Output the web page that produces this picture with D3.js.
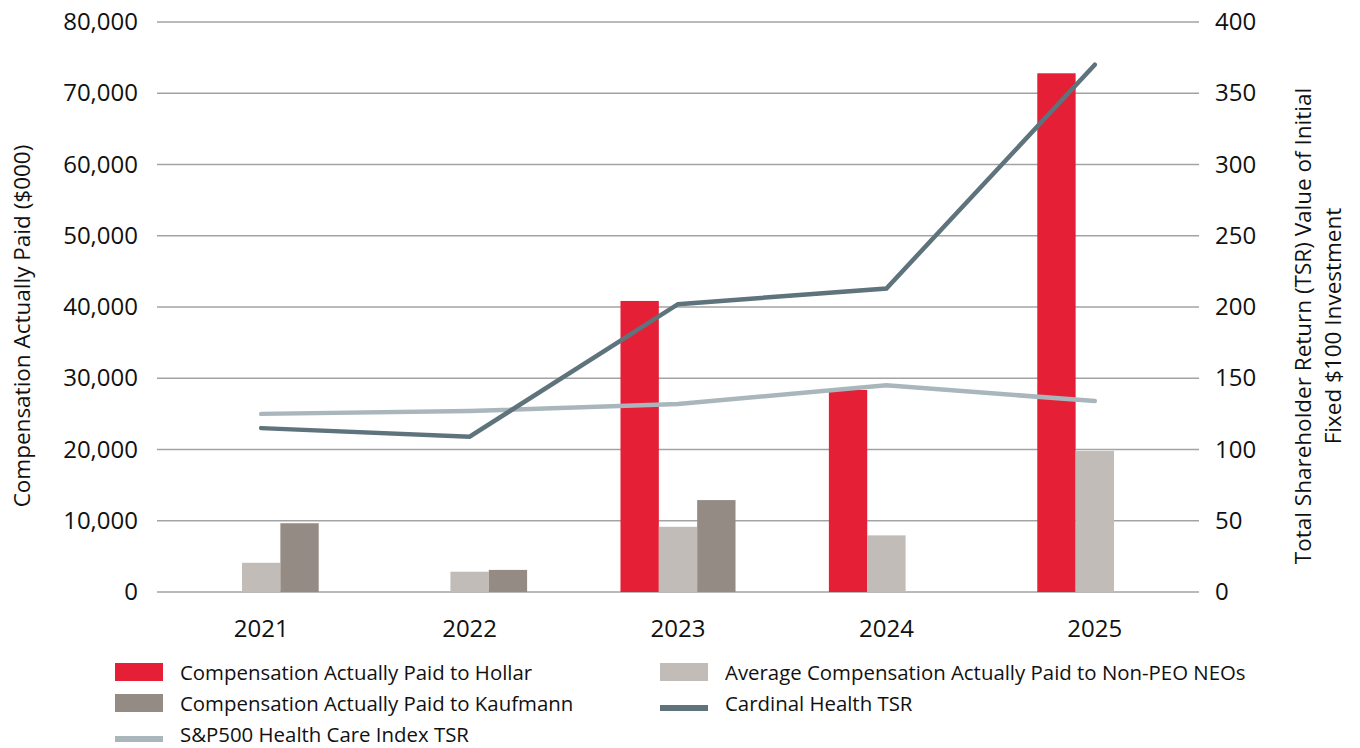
<!DOCTYPE html>
<html>
<head>
<meta charset="utf-8">
<script src="https://cdn.jsdelivr.net/npm/d3@7"></script>
<style>
  html, body { margin: 0; padding: 0; background: #fff; }
  svg { display: block; font-family: "Open Sans", "Noto Sans", sans-serif; }
</style>
</head>
<body>
<svg id="chart" width="1360" height="748"></svg>
<script>
// Fiscal years
const years = ["2021", "2022", "2023", "2024", "2025"];

// Compensation actually paid ($000)
const hollarCAP   = [null, null, 40850, 28350, 72800];
const nonPeoCAP   = [4100, 2850, 9150, 7950, 19800];
const kaufmannCAP = [9650, 3100, 12900, null, null];

// TSR value of an initial fixed $100 investment
const cardinalTSR = [115, 109, 202, 213, 370];
const sp500TSR    = [125, 127, 132, 145, 134];

// Axis ticks
const leftTicks  = [0, 10000, 20000, 30000, 40000, 50000, 60000, 70000, 80000];
const rightTicks = [0, 50, 100, 150, 200, 250, 300, 350, 400];

const barSeries = [
  { key: "hollar",   label: "Compensation Actually Paid to Hollar",   values: hollarCAP,   color: "#e41f36" },
  { key: "nonpeo",   label: "Average Compensation Actually Paid to Non-PEO NEOs", values: nonPeoCAP, color: "#c1bcb8" },
  { key: "kaufmann", label: "Compensation Actually Paid to Kaufmann", values: kaufmannCAP, color: "#958b85" }
];
const lineSeries = [
  { key: "cardinal", label: "Cardinal Health TSR",            values: cardinalTSR, color: "#5e737b" },
  { key: "sp500",    label: "S&P500 Health Care Index TSR",   values: sp500TSR,    color: "#a9b7bd" }
];

const svg = d3.select("#chart");
const plot = { left: 157, right: 1199, top: 22, bottom: 592 };

const x = d3.scaleBand().domain(years).range([plot.left, plot.right])
  .paddingInner(0.448).paddingOuter(0.224);
const xSub = d3.scaleBand().domain(barSeries.map(s => s.key)).range([0, x.bandwidth()]);
const yL = d3.scaleLinear().domain([0, 80000]).range([plot.bottom, plot.top]);
const yR = d3.scaleLinear().domain([0, 400]).range([plot.bottom, plot.top]);

// Gridlines
svg.append("g").selectAll("line").data(leftTicks).join("line")
  .attr("x1", plot.left).attr("x2", plot.right)
  .attr("y1", d => yL(d)).attr("y2", d => yL(d))
  .attr("stroke", "#a3a3a3").attr("stroke-width", 1.3);

function styleAxis(g) {
  g.attr("font-family", null).attr("font-size", null);
  g.select(".domain").remove();
  g.selectAll("text").attr("font-size", 24).attr("fill", "#111");
}

// Left axis
svg.append("g").attr("transform", `translate(${plot.left - 19},0)`)
  .call(d3.axisLeft(yL).tickValues(leftTicks).tickSize(0).tickPadding(0).tickFormat(d3.format(",")))
  .call(styleAxis);

// Right axis
svg.append("g").attr("transform", `translate(${plot.right + 16},0)`)
  .call(d3.axisRight(yR).tickValues(rightTicks).tickSize(0).tickPadding(0))
  .call(styleAxis);

// Category axis
svg.append("g").attr("transform", `translate(0,${plot.bottom})`)
  .call(d3.axisBottom(x).tickSize(0).tickPadding(0))
  .call(styleAxis)
  .selectAll("text").attr("dy", null).attr("y", 45);

// Axis titles
svg.append("text")
  .attr("transform", "translate(30,326) rotate(-90)")
  .attr("text-anchor", "middle").attr("font-size", 22.5).attr("fill", "#111")
  .text("Compensation Actually Paid ($000)");
const rt = svg.append("text")
  .attr("transform", "translate(1311,326) rotate(-90)")
  .attr("text-anchor", "middle").attr("font-size", 22.5).attr("fill", "#111");
rt.append("tspan").attr("x", 0).attr("y", 0).text("Total Shareholder Return (TSR) Value of Initial");
rt.append("tspan").attr("x", 0).attr("y", 30).text("Fixed $100 Investment");

// Bars
const groups = svg.append("g").selectAll("g").data(years).join("g")
  .attr("transform", d => `translate(${x(d)},0)`);
groups.selectAll("rect")
  .data((yr, i) => barSeries.filter(s => s.values[i] != null).map(s => ({ s, v: s.values[i] })))
  .join("rect")
  .attr("x", d => xSub(d.s.key))
  .attr("width", xSub.bandwidth())
  .attr("y", d => yL(d.v))
  .attr("height", d => yL(0) - yL(d.v))
  .attr("fill", d => d.s.color);

// TSR lines
const line = d3.line().x((d, i) => x(years[i]) + x.bandwidth() / 2).y(d => yR(d));
svg.append("g").selectAll("path").data(lineSeries.slice().reverse()).join("path")
  .attr("d", d => line(d.values))
  .attr("fill", "none")
  .attr("stroke", d => d.color)
  .attr("stroke-width", 4.5)
  .attr("stroke-linecap", "round")
  .attr("stroke-linejoin", "miter");

// Legend
const legendItems = [
  { label: barSeries[0].label, color: barSeries[0].color, type: "rect", col: 0, row: 0 },
  { label: barSeries[1].label, color: barSeries[1].color, type: "rect", col: 1, row: 0 },
  { label: barSeries[2].label, color: barSeries[2].color, type: "rect", col: 0, row: 1 },
  { label: lineSeries[0].label, color: lineSeries[0].color, type: "line", col: 1, row: 1 },
  { label: lineSeries[1].label, color: lineSeries[1].color, type: "line", col: 0, row: 2 }
];
const legendCols = [115, 660];
const legendRow0 = 680, legendRowStep = 31;
const lg = svg.append("g").selectAll("g").data(legendItems).join("g")
  .attr("transform", d => `translate(${legendCols[d.col]},${legendRow0 + d.row * legendRowStep})`);
lg.filter(d => d.type === "rect").append("rect")
  .attr("x", 0).attr("y", -17).attr("width", 48).attr("height", 18).attr("fill", d => d.color);
lg.filter(d => d.type === "line").append("rect")
  .attr("x", 0).attr("y", -6).attr("width", 48).attr("height", 6).attr("fill", d => d.color);
lg.append("text").attr("x", 65).attr("y", 0)
  .attr("font-size", 20.4).attr("fill", "#111").text(d => d.label);
</script>
</body>
</html>
